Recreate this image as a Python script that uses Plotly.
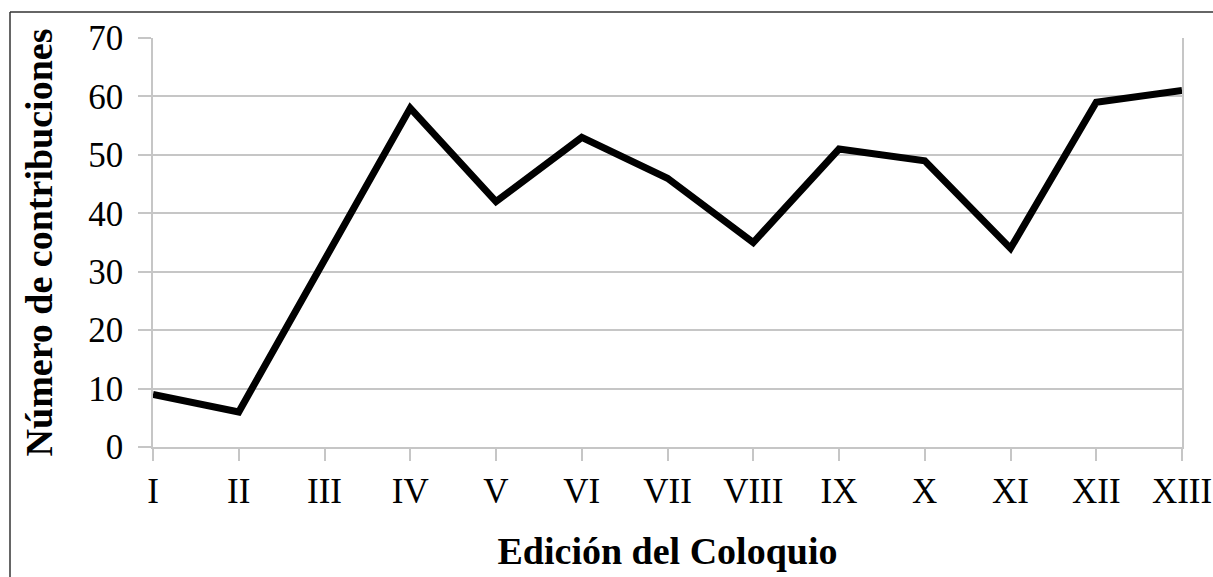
import plotly.graph_objects as go

ediciones = ["I", "II", "III", "IV", "V", "VI", "VII", "VIII", "IX", "X", "XI", "XII", "XIII"]
contribuciones = [9, 6, 32, 58, 42, 53, 46, 35, 51, 49, 34, 59, 61]
y_ticks = [0, 10, 20, 30, 40, 50, 60, 70]

W, H = 1213, 577
L, T = 153, 38
R = W - 1182
B = H - 447
pw, ph = W - L - R, H - T - B

xs = list(range(len(ediciones)))

fig = go.Figure()
fig.add_trace(go.Scatter(
    x=xs, y=contribuciones, mode="lines",
    line=dict(color="black", width=7),
    showlegend=False, hoverinfo="skip",
))

grid = "#c6c6c6"
fig.update_layout(
    width=W, height=H,
    margin=dict(l=L, r=R, t=T, b=B, autoexpand=False),
    paper_bgcolor="white", plot_bgcolor="white",
    font=dict(family="Liberation Serif, Times New Roman, serif", color="black", size=36),
    xaxis=dict(
        range=[0, len(ediciones) - 1],
        tickvals=xs, ticktext=ediciones,
        showgrid=False, zeroline=False,
        showline=True, linecolor=grid, linewidth=1.5,
        mirror=False, automargin=False,
        ticks="outside", ticklen=12, tickcolor=grid, tickwidth=1.5,
        tickfont=dict(size=35),
        title=dict(text="<b>Edición del Coloquio</b>", font=dict(size=38), standoff=28),
    ),
    yaxis=dict(
        range=[0, 70],
        tickvals=y_ticks,
        showgrid=True, gridcolor=grid, gridwidth=1.5,
        zeroline=False, automargin=False,
        showline=True, linecolor=grid, linewidth=1.5, mirror=True,
        ticks="outside", ticklen=13, tickcolor=grid, tickwidth=1.5,
        tickfont=dict(size=35),
        ticklabelstandoff=8,
        title=dict(text="<b>Número de contribuciones</b>", font=dict(size=38), standoff=24),
    ),
)

# outer frame (left and top edges of the enclosing box)
x_left = (10 - L) / pw
y_top = (H - B - 12) / ph
fig.add_shape(type="line", xref="paper", yref="paper",
              x0=x_left, x1=x_left, y0=-(B + 5) / ph, y1=y_top,
              line=dict(color="#333333", width=1.5))
fig.add_shape(type="line", xref="paper", yref="paper",
              x0=x_left, x1=(W - L + 5) / pw, y0=y_top, y1=y_top,
              line=dict(color="#333333", width=1.5))

fig.write_html(
    "out.html",
    config={"displayModeBar": False},
    post_script="document.body.style.margin='0';document.body.style.overflow='hidden';",
)
